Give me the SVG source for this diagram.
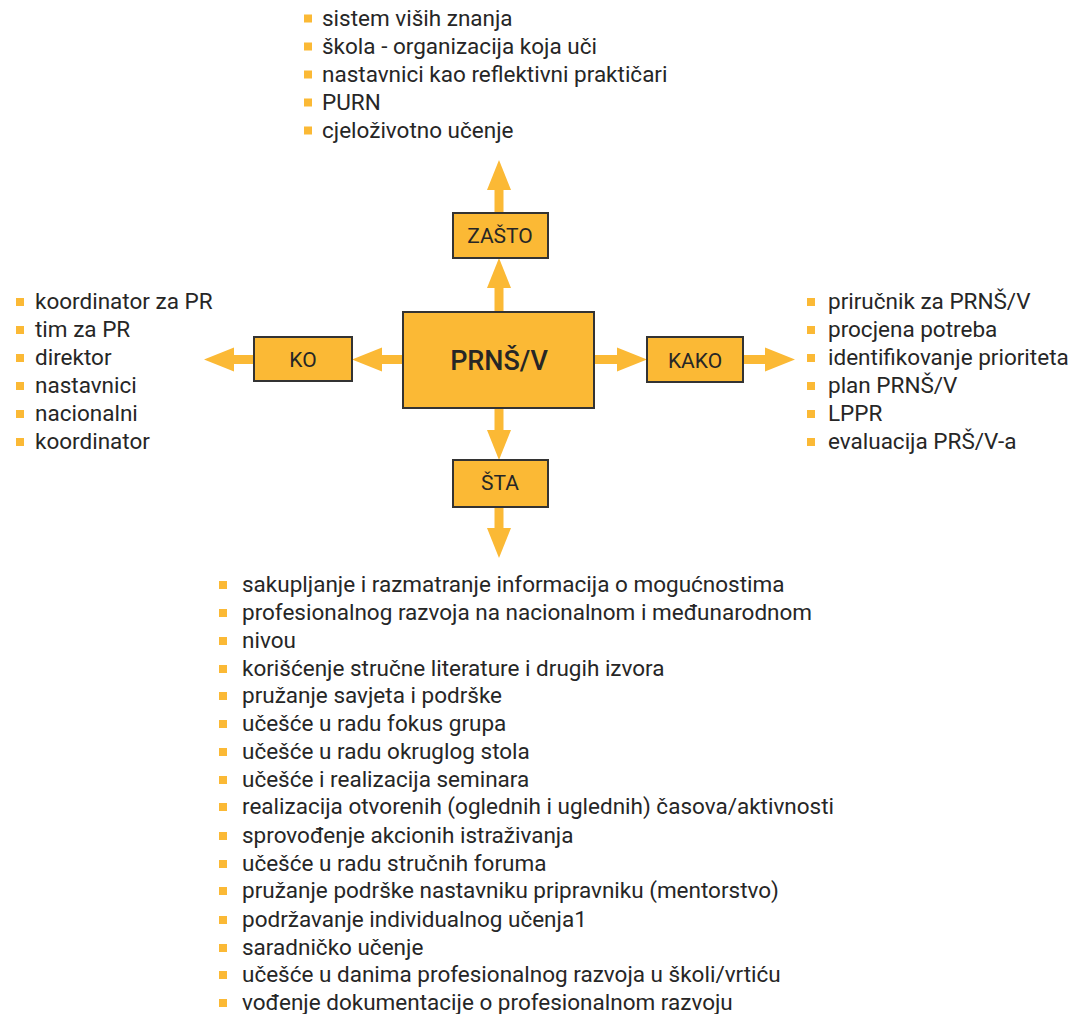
<svg xmlns="http://www.w3.org/2000/svg" width="1074" height="1014" viewBox="0 0 1074 1014">
<defs>
<style>
.box{fill:#FBB935;stroke:#333;stroke-width:2}
.lbl{font-family:Roboto,"Liberation Sans",sans-serif;font-size:21px;fill:#262626;text-anchor:middle}
.main{font-family:Roboto,"Liberation Sans",sans-serif;font-size:27px;font-weight:500;fill:#262626;text-anchor:middle}
.li{font-family:Roboto,"Liberation Sans",sans-serif;font-size:22.5px;fill:#262626}
.bul{fill:#FBB935}
.arr{stroke:#FBB935;stroke-width:9;fill:none}
</style>
<marker id="ah" markerUnits="userSpaceOnUse" markerWidth="32" markerHeight="26" viewBox="0 -13 32 26" refX="0" refY="0" orient="auto">
<path d="M0,-12 L30,0 L0,12 Z" fill="#FBB935"/>
</marker>
</defs>
<rect width="1074" height="1014" fill="#fff"/>

<g id="connectors">
<line class="arr" x1="499" y1="312" x2="499" y2="288" marker-end="url(#ah)"/>
<line class="arr" x1="499" y1="213" x2="499" y2="190" marker-end="url(#ah)"/>
<line class="arr" x1="403" y1="359.5" x2="382" y2="359.5" marker-end="url(#ah)"/>
<line class="arr" x1="254" y1="359.5" x2="234" y2="359.5" marker-end="url(#ah)"/>
<line class="arr" x1="594" y1="359.5" x2="617" y2="359.5" marker-end="url(#ah)"/>
<line class="arr" x1="743" y1="359.5" x2="765" y2="359.5" marker-end="url(#ah)"/>
<line class="arr" x1="499" y1="408" x2="499" y2="430" marker-end="url(#ah)"/>
<line class="arr" x1="499" y1="507" x2="499" y2="528" marker-end="url(#ah)"/>
</g>

<g id="prnsv">
<rect class="box" x="403" y="312" width="191" height="96"/>
<text class="main" x="499" y="370">PRNŠ/V</text>
</g>
<g id="zasto">
<rect class="box" x="453" y="213" width="95" height="45"/>
<text class="lbl" x="500" y="243">ZAŠTO</text>
</g>
<g id="ko">
<rect class="box" x="254" y="337" width="98" height="44"/>
<text class="lbl" x="303" y="367">KO</text>
</g>
<g id="kako">
<rect class="box" x="647" y="337" width="96" height="45"/>
<text class="lbl" x="695" y="368">KAKO</text>
</g>
<g id="sta">
<rect class="box" x="453" y="460" width="95" height="47"/>
<text class="lbl" x="500" y="490">ŠTA</text>
</g>

<g id="list-zasto">
<rect class="bul" x="304" y="14.5" width="8" height="8"/><text class="li" x="322" y="25.5">sistem viših znanja</text>
<rect class="bul" x="304" y="42.5" width="8" height="8"/><text class="li" x="322" y="53.5">škola - organizacija koja uči</text>
<rect class="bul" x="304" y="70.5" width="8" height="8"/><text class="li" x="322" y="81.5">nastavnici kao reflektivni praktičari</text>
<rect class="bul" x="304" y="98.5" width="8" height="8"/><text class="li" x="322" y="109.5">PURN</text>
<rect class="bul" x="304" y="126.5" width="8" height="8"/><text class="li" x="322" y="137.5">cjeloživotno učenje</text>
</g>

<g id="list-ko">
<rect class="bul" x="16" y="298" width="8" height="8"/><text class="li" x="35" y="309">koordinator za PR</text>
<rect class="bul" x="16" y="326" width="8" height="8"/><text class="li" x="35" y="337">tim za PR</text>
<rect class="bul" x="16" y="354" width="8" height="8"/><text class="li" x="35" y="365">direktor</text>
<rect class="bul" x="16" y="382" width="8" height="8"/><text class="li" x="35" y="393">nastavnici</text>
<rect class="bul" x="16" y="410" width="8" height="8"/><text class="li" x="35" y="421">nacionalni</text>
<rect class="bul" x="16" y="438" width="8" height="8"/><text class="li" x="35" y="449">koordinator</text>
</g>

<g id="list-kako">
<rect class="bul" x="807" y="298" width="8" height="8"/><text class="li" x="828" y="309">priručnik za PRNŠ/V</text>
<rect class="bul" x="807" y="326" width="8" height="8"/><text class="li" x="828" y="337">procjena potreba</text>
<rect class="bul" x="807" y="354" width="8" height="8"/><text class="li" x="828" y="365">identifikovanje prioriteta</text>
<rect class="bul" x="807" y="382" width="8" height="8"/><text class="li" x="828" y="393">plan PRNŠ/V</text>
<rect class="bul" x="807" y="410" width="8" height="8"/><text class="li" x="828" y="421">LPPR</text>
<rect class="bul" x="807" y="438" width="8" height="8"/><text class="li" x="828" y="449">evaluacija PRŠ/V-a</text>
</g>

<g id="list-sta">
<rect class="bul" x="219" y="581" width="8" height="8"/><text class="li" x="242" y="592">sakupljanje i razmatranje informacija o mogućnostima</text>
<rect class="bul" x="219" y="609" width="8" height="8"/><text class="li" x="242" y="620">profesionalnog razvoja na nacionalnom i međunarodnom</text>
<rect class="bul" x="219" y="637" width="8" height="8"/><text class="li" x="242" y="648">nivou</text>
<rect class="bul" x="219" y="665" width="8" height="8"/><text class="li" x="242" y="676">korišćenje stručne literature i drugih izvora</text>
<rect class="bul" x="219" y="692" width="8" height="8"/><text class="li" x="242" y="703">pružanje savjeta i podrške</text>
<rect class="bul" x="219" y="720" width="8" height="8"/><text class="li" x="242" y="731">učešće u radu fokus grupa</text>
<rect class="bul" x="219" y="748" width="8" height="8"/><text class="li" x="242" y="759">učešće u radu okruglog stola</text>
<rect class="bul" x="219" y="776" width="8" height="8"/><text class="li" x="242" y="787">učešće i realizacija seminara</text>
<rect class="bul" x="219" y="803" width="8" height="8"/><text class="li" x="242" y="814">realizacija otvorenih (oglednih i uglednih) časova/aktivnosti</text>
<rect class="bul" x="219" y="832" width="8" height="8"/><text class="li" x="242" y="843">sprovođenje akcionih istraživanja</text>
<rect class="bul" x="219" y="860" width="8" height="8"/><text class="li" x="242" y="871">učešće u radu stručnih foruma</text>
<rect class="bul" x="219" y="887" width="8" height="8"/><text class="li" x="242" y="898">pružanje podrške nastavniku pripravniku (mentorstvo)</text>
<rect class="bul" x="219" y="916" width="8" height="8"/><text class="li" x="242" y="927">podržavanje individualnog učenja1</text>
<rect class="bul" x="219" y="944" width="8" height="8"/><text class="li" x="242" y="955">saradničko učenje</text>
<rect class="bul" x="219" y="971" width="8" height="8"/><text class="li" x="242" y="982">učešće u danima profesionalnog razvoja u školi/vrtiću</text>
<rect class="bul" x="219" y="999" width="8" height="8"/><text class="li" x="242" y="1010">vođenje dokumentacije o profesionalnom razvoju</text>
</g>
</svg>
